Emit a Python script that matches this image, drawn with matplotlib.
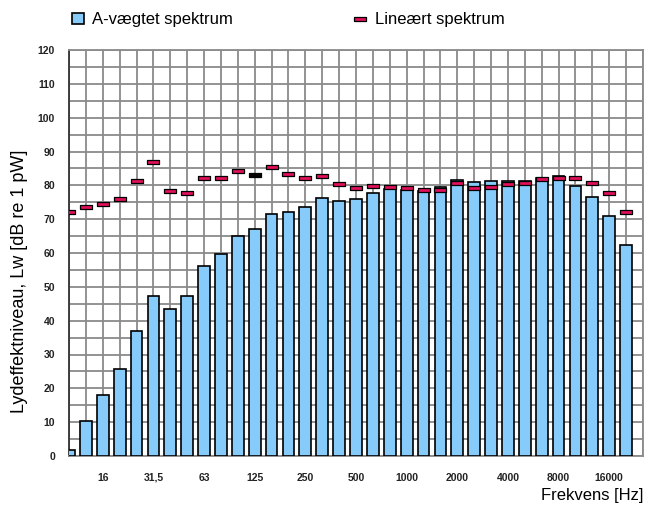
import matplotlib
matplotlib.use("Agg")
import matplotlib.pyplot as plt
from matplotlib.lines import Line2D
from matplotlib.patches import Patch
import numpy as np

plt.rcParams['font.family'] = ['Liberation Sans', 'DejaVu Sans']

# 1/3-octave bands, 10 Hz .. 20 kHz
bands = ['10', '12,5', '16', '20', '25', '31,5', '40', '50', '63', '80', '100', '125',
         '160', '200', '250', '315', '400', '500', '630', '800', '1000', '1250', '1600',
         '2000', '2500', '3150', '4000', '5000', '6300', '8000', '10000', '12500',
         '16000', '20000']

a_weighted = [1.7, 10.4, 18.0, 25.6, 36.8, 47.2, 43.5, 47.2, 56.2, 59.7, 64.9, 67.0,
              71.5, 72.2, 73.6, 76.2, 75.3, 76.1, 77.7, 78.9, 78.7, 78.2, 79.6, 81.6,
              80.9, 81.2, 81.2, 81.2, 82.3, 82.7, 79.7, 76.5, 70.9, 62.3]

linear = [72.1, 73.6, 74.6, 76.1, 81.2, 86.8, 78.2, 77.7, 82.3, 82.3, 84.3, 83.1,
          85.3, 83.4, 82.3, 82.9, 80.3, 79.3, 79.7, 79.6, 79.2, 78.6, 78.6, 80.8,
          79.2, 79.6, 80.3, 80.8, 81.8, 82.1, 82.3, 80.8, 77.6, 72.0]

label_bands = ['16', '31,5', '63', '125', '250', '500', '1000', '2000', '4000',
               '8000', '16000']

bar_color = '#87cbfa'
mark_color = '#e0105a'
grid_color = '#8a8a8a'

x = np.arange(len(bands))

fig = plt.figure(figsize=(6.48, 5.09), dpi=100)
ax = fig.add_axes([69 / 648, 1 - 456 / 509, 574 / 648, 406 / 509])

ax.bar(x, a_weighted, width=0.7, color=bar_color, edgecolor='black',
       linewidth=1.2, zorder=3)

# flat rectangle marker for the linear spectrum
rect = [(-1, -0.3), (1, -0.3), (1, 0.3), (-1, 0.3), (-1, -0.3)]
mcols = [mark_color] * len(bands)
mcols[bands.index('125')] = 'black'
for xi, yi, c in zip(x, linear, mcols):
    ax.plot([xi], [yi], linestyle='none', marker=rect, markersize=8.5,
            markerfacecolor=c, markeredgecolor='black', markeredgewidth=0.9,
            zorder=4)

ax.set_xlim(0, len(bands))
ax.set_ylim(0, 120)

ax.set_xticks(np.arange(0, len(bands) + 1), minor=True)
ax.set_xticks([bands.index(b) for b in label_bands])
ax.set_xticklabels(label_bands)
ax.set_yticks(np.arange(0, 121, 10))
ax.set_yticks(np.arange(0, 121, 5), minor=True)
ax.tick_params(which='both', length=0)
ax.tick_params(axis='both', labelsize=7.5, labelcolor='#222222')
ax.tick_params(axis='x', pad=12)
ax.tick_params(axis='y', pad=10)
for lab in ax.get_xticklabels() + ax.get_yticklabels():
    lab.set_fontweight('bold')

ax.grid(True, which='both', color=grid_color, linewidth=1.3, zorder=0)
ax.set_axisbelow(True)
for s in ax.spines.values():
    s.set_color(grid_color)
    s.set_linewidth(1.3)
ax.spines['left'].set_color('#333333')

ax.set_ylabel('Lydeffektniveau, Lw [dB re 1 pW]', fontsize=13)
ax.yaxis.set_label_coords(-0.072, 0.43)
ax.set_xlabel('Frekvens [Hz]', fontsize=12, loc='right', labelpad=4)

handles = [
    Patch(facecolor=bar_color, edgecolor='black', linewidth=1.2),
    Line2D([], [], linestyle='none', marker=rect, markersize=8.5,
           markerfacecolor=mark_color, markeredgecolor='black', markeredgewidth=0.9),
]
fig.legend(handles, ['A-vægtet spektrum', 'Lineært spektrum'], ncol=2,
           loc='upper left', bbox_to_anchor=(0.088, 1.005), frameon=False,
           fontsize=12, handlelength=0.7, handleheight=0.7, handletextpad=0.5,
           columnspacing=7.3)

fig.savefig('out.png', dpi=100)
